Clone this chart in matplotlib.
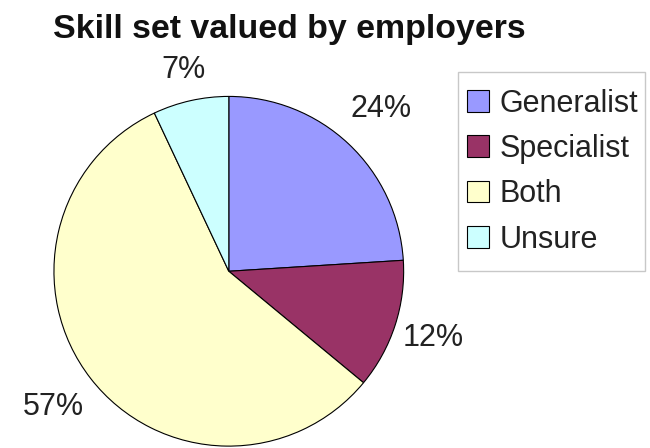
import numpy as np
import matplotlib.pyplot as plt
from matplotlib.patches import Rectangle

# Survey shares
labels = ["Generalist", "Specialist", "Both", "Unsure"]
shares = [24, 12, 57, 7]
colors = ["#9999FF", "#993366", "#FFFFCC", "#CCFFFF"]
# how far out each percentage sits (in pie radii)
label_dist = [1.27, 1.23, 1.27, 1.18]

plt.rcParams['font.family'] = ['Liberation Sans', 'DejaVu Sans']

fig = plt.figure(figsize=(6.5, 4.48), dpi=100)
ax = fig.add_axes([0.083, 0.004, 0.538, 0.781])

wedges, texts, autotexts = ax.pie(
    shares, colors=colors, startangle=90, counterclock=False,
    autopct='%d%%', pctdistance=1.25,
    wedgeprops=dict(edgecolor='black', linewidth=0.8),
    textprops=dict(fontsize=22, color='#222222'))
ax.set_aspect('equal')
ax.set_xlim(-1, 1)
ax.set_ylim(-1, 1)

# push each label out along its wedge's middle angle
for w, t, d in zip(wedges, autotexts, label_dist):
    mid = np.deg2rad((w.theta1 + w.theta2) / 2)
    t.set_position((d * np.cos(mid), d * np.sin(mid)))
    t.set_ha('center')
    t.set_va('center')

fig.text(289 / 650, 1 - 38 / 448, "Skill set valued by employers", ha='center', va='baseline',
         fontsize=24.4, fontweight='bold', color='#111111')

# legend without its own frame; the box is drawn separately so it can be taller
leg = fig.legend(wedges, labels, loc='upper left', bbox_to_anchor=(456 / 650, 1 - 78 / 448),
                 borderaxespad=0, fontsize=22, frameon=False,
                 handlelength=0.72, handleheight=0.72, handletextpad=0.36,
                 labelspacing=0.5, borderpad=0.35)
for t in leg.get_texts():
    t.set_color('#222222')

fig.patches.append(Rectangle((458 / 650, 1 - 271 / 448), 187 / 650, 199 / 448,
                             transform=fig.transFigure, fill=False,
                             edgecolor='#C8C8C8', linewidth=1.0))

fig.savefig('out.png', dpi=100, facecolor='white')
